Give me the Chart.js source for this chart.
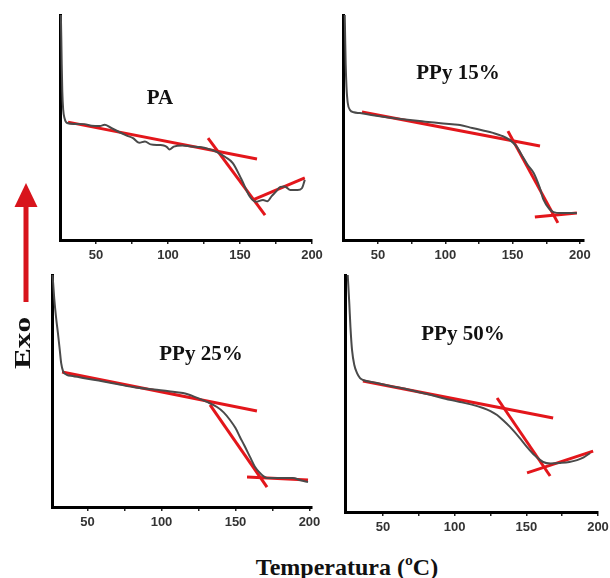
<!DOCTYPE html>
<html>
<head>
<meta charset="utf-8">
<title>DSC - Exo</title>
<script src="https://cdn.jsdelivr.net/npm/chart.js@4.4.1/dist/chart.umd.min.js"></script>
<style>
  html, body { margin: 0; padding: 0; background: #fff; overflow: hidden; }
  #page { position: relative; width: 610px; height: 578px; }
  canvas { position: absolute; }
  .lbl { position: absolute; transform: translate(-50%, -50%); white-space: nowrap;
         font-family: "Liberation Serif", "DejaVu Serif", serif; font-weight: bold; color: #111; }
</style>
</head>
<body>
<div id="page">
  <canvas id="c-pa"></canvas>
  <canvas id="c-p15"></canvas>
  <canvas id="c-p25"></canvas>
  <canvas id="c-p50"></canvas>

  <div class="lbl" style="left:160px; top:97px; font-size:21px;">PA</div>
  <div class="lbl" style="left:458px; top:72px; font-size:21px;">PPy 15%</div>
  <div class="lbl" style="left:201px; top:353px; font-size:21px;">PPy 25%</div>
  <div class="lbl" style="left:463px; top:333px; font-size:21px;">PPy 50%</div>

  <div class="lbl" style="left:22px; top:343px; font-size:24px; transform:translate(-50%,-50%) rotate(-90deg) scale(1.3,1);">Exo</div>
  <div class="lbl" style="left:347px; top:567px; font-size:24px;">Temperatura (ºC)</div>

  <!-- red "exo up" arrow -->
  <svg style="position:absolute; left:0; top:0;" width="60" height="320">
    <rect x="23.5" y="203" width="5" height="99" fill="#d8141c"/>
    <polygon points="26,183 14.5,207 37.5,207" fill="#d8141c"/>
  </svg>
</div>

<script>
// x axis ticks shared by all four thermograms (labels only on multiples of 50)
var xTickValues = [50, 75, 100, 125, 150, 175, 200];

// PA
var paTemp = [25.6, 25.9, 26.2, 26.6, 27.2, 28.2, 29.9, 35, 42, 47, 52.8, 56, 60, 66, 71, 75.7, 80, 84, 88, 94, 97, 99.3, 101, 104, 110, 116, 122, 128, 134, 140, 145, 151, 157, 161, 166, 169, 172, 175, 178, 181, 185, 190, 193, 195];
var paExo = [100, 90, 78, 66, 58, 54, 52, 51.6, 51.5, 50.8, 50.7, 51.2, 50, 48, 46.5, 45.3, 43.2, 43.8, 42.5, 42.2, 42, 41.3, 40.2, 41.5, 42, 41.6, 41.3, 40.5, 39.1, 36.8, 34.2, 27, 19.1, 17, 17.8, 17.2, 19.5, 21.5, 23.6, 23.8, 22.2, 22.2, 23, 26.7];
var paFits = [[30.6, 52.4, 161.8, 36.0], [127.8, 45.3, 167.4, 11.1], [159, 17.8, 195, 27.6]];

// PPy 15%
var p15Temp = [25.3, 25.6, 26, 26.6, 27.5, 29.2, 32, 36.6, 45, 55, 65, 73.7, 85, 95, 105, 110.9, 120, 128, 135.4, 142, 148, 153, 157.6, 161, 165.6, 170, 173, 177, 180.4, 186, 192, 197.7];
var p15Exo = [100, 90, 78, 68, 61, 57.8, 56.8, 56.4, 55.6, 54.7, 53.9, 53.3, 52.6, 52, 51.4, 51.1, 49.8, 48.7, 47.6, 46.3, 44.4, 41.5, 36.9, 33.5, 29.8, 23.5, 17.8, 14, 12.4, 12, 12, 12];
var p15Fits = [[38.1, 56.9, 170.3, 41.8], [146.5, 48.4, 183.6, 7.6], [166.5, 10.2, 197.7, 12]];

// PPy 25%
var p25Temp = [26.4, 27.5, 28.7, 30, 31.2, 32.2, 33.5, 36, 40, 47, 60, 70, 80.7, 95, 105, 114.5, 122, 130.7, 137.5, 142, 146.3, 150, 153, 156, 159.8, 163, 166.5, 169, 171.3, 180, 188.8, 194, 199];
var p25Exo = [100, 90, 82, 75, 68, 62, 58.5, 57, 56.5, 55.6, 54.2, 53, 51.7, 50.6, 49.9, 49.1, 47.6, 45.3, 43.1, 40.8, 37.5, 34, 30.2, 26.5, 21.6, 17.5, 14.7, 13.2, 12.5, 12.5, 12.5, 11.5, 10.8];
var p25Fits = [[32.8, 58.2, 164.5, 41.4], [132.8, 44, 171.3, 8.6], [157.8, 12.9, 199, 11.6]];

// PPy 50%
var p50Temp = [25.4, 26.5, 27.3, 28.4, 30, 31.9, 34, 36, 45, 55, 68.9, 80, 92, 103.8, 112, 119.8, 125, 129.6, 134, 138.6, 145, 150.5, 156, 161.7, 167, 173.5, 180, 185.4, 190, 194.5];
var p50Exo = [100, 88, 78, 68.4, 62, 58.6, 56.5, 55.7, 54.5, 53.2, 51.5, 49.9, 48, 46.4, 45.3, 43.9, 42.6, 40.9, 38.6, 35.9, 31.5, 27.4, 23.8, 21.1, 20.5, 20.7, 21.1, 21.9, 23, 24.9];
var p50Fits = [[36, 55.3, 168.7, 39.7], [129.6, 48.1, 166.6, 15.2], [150.5, 16.5, 196.6, 25.7]];

// Build one thermogram; box = plot area [left, top, right, bottom] on the page
function makePanel(canvasId, box, xMin, xMax, temp, exo, fits) {
    var padL = 10, padR = 20, padT = 6, axisH = 30;
    var cv = document.getElementById(canvasId);
    var w = box[2] - box[0] + padL + padR;
    var h = box[3] - box[1] + padT + axisH;
    cv.style.left = (box[0] - padL) + 'px';
    cv.style.top = (box[1] - padT) + 'px';
    cv.width = w; cv.height = h;
    cv.style.width = w + 'px'; cv.style.height = h + 'px';

    var datasets = [{
        data: temp.map(function (t, i) { return { x: t, y: exo[i] }; }),
        showLine: true,
        borderColor: '#4a4a4a',
        borderWidth: 2,
        pointRadius: 0,
        cubicInterpolationMode: 'monotone',
        clip: false
    }];
    // red tangent lines used for the onset construction
    fits.forEach(function (f) {
        datasets.push({
            data: [{ x: f[0], y: f[1] }, { x: f[2], y: f[3] }],
            showLine: true,
            borderColor: '#e3161b',
            borderWidth: 3,
            pointRadius: 0,
            clip: false
        });
    });

    return new Chart(cv, {
        type: 'scatter',
        data: { datasets: datasets },
        options: {
            responsive: false,
            animation: false,
            layout: { padding: { left: padL, right: padR, top: padT, bottom: 0 } },
            plugins: { legend: { display: false }, tooltip: { enabled: false } },
            scales: {
                x: {
                    type: 'linear',
                    min: xMin,
                    max: xMax,
                    afterFit: function (s) { s.height = axisH; },
                    afterBuildTicks: function (s) {
                        s.ticks = xTickValues.map(function (v) { return { value: v }; });
                    },
                    grid: { display: true, drawOnChartArea: false, drawTicks: true, tickLength: 4, color: '#222', lineWidth: 1.5 },
                    border: { display: true, color: '#000', width: 3 },
                    ticks: {
                        padding: 4,
                        color: '#333',
                        autoSkip: false,
                        maxRotation: 0,
                        font: { family: 'Liberation Sans', size: 13, weight: 'bold' },
                        callback: function (v) { return v % 50 === 0 ? String(v) : ''; }
                    }
                },
                y: {
                    min: 0,
                    max: 100,
                    afterFit: function (s) { s.width = 0; },
                    grid: { display: false },
                    border: { display: true, color: '#000', width: 3 },
                    ticks: { display: false }
                }
            }
        }
    });
}

makePanel('c-pa', [60, 15, 312, 240], 25, 200, paTemp, paExo, paFits);
makePanel('c-p15', [343, 15, 584, 240], 24, 203, p15Temp, p15Exo, p15Fits);
makePanel('c-p25', [52, 275, 312, 507], 26, 201.7, p25Temp, p25Exo, p25Fits);
makePanel('c-p50', [345, 275, 598, 512], 23.5, 200, p50Temp, p50Exo, p50Fits);
</script>
</body>
</html>
